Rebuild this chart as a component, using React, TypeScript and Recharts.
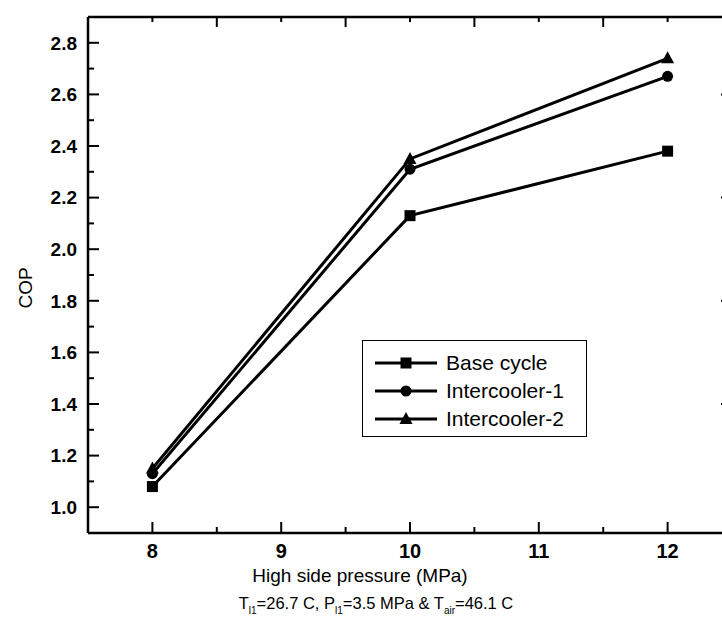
import React from 'react';
import { LineChart, Line, XAxis, YAxis, Legend } from 'recharts';

const pressure = [8, 10, 12];
const baseCycle = [1.08, 2.13, 2.38];
const intercooler1 = [1.13, 2.31, 2.67];
const intercooler2 = [1.15, 2.35, 2.74];

const xTicks = [8, 8.5, 9, 9.5, 10, 10.5, 11, 11.5, 12];
const yTicks = [1.0, 1.1, 1.2, 1.3, 1.4, 1.5, 1.6, 1.7, 1.8, 1.9, 2.0, 2.1, 2.2, 2.3, 2.4, 2.5, 2.6, 2.7, 2.8];
const rightTicks = [1.4, 1.8, 2.2, 2.6];

const data = pressure.map((p, i) => ({
    p,
    base: baseCycle[i],
    ic1: intercooler1[i],
    ic2: intercooler2[i],
}));

const FONT = '"Liberation Sans", Arial, Helvetica, sans-serif';

const isWhole = (v: number) => Math.abs(v - Math.round(v)) < 1e-6;
const isEvenTenth = (v: number) => Math.round(v * 10) % 2 === 0;

function Marker({ kind, cx, cy }: { kind: string; cx: number; cy: number }) {
    if (kind === 'base') return <rect x={cx - 5.5} y={cy - 5.5} width={11} height={11} fill="#000" />;
    if (kind === 'ic1') return <circle cx={cx} cy={cy} r={5.5} fill="#000" />;
    return <polygon points={`${cx},${cy - 7} ${cx + 6.5},${cy + 5} ${cx - 6.5},${cy + 5}`} fill="#000" />;
}

const dotFor = (kind: string) => (props: any) => {
    const { cx, cy, index } = props;
    if (cx == null || cy == null) return <g key={`${kind}-${index}`} />;
    return (
        <g key={`${kind}-${index}`}>
            <Marker kind={kind} cx={cx} cy={cy} />
        </g>
    );
};

function BottomTick(props: any) {
    const { x, y, payload } = props;
    const v = payload.value;
    const major = isWhole(v);
    return (
        <g>
            <line x1={x} y1={y} x2={x} y2={y - (major ? 11 : 6)} stroke="#000" strokeWidth={2} />
            {major && (
                <text x={x} y={y + 25} textAnchor="middle" fontSize={20} fontWeight={700} fill="#000" fontFamily={FONT}>
                    {v}
                </text>
            )}
        </g>
    );
}

function TopTick(props: any) {
    const { x, y, payload } = props;
    const long = !isWhole(payload.value);
    return <line x1={x} y1={y} x2={x} y2={y + (long ? 10 : 5)} stroke="#000" strokeWidth={2} />;
}

function LeftTick(props: any) {
    const { x, y, payload } = props;
    const v = payload.value;
    const major = isEvenTenth(v);
    return (
        <g>
            <line x1={x} y1={y} x2={x + (major ? 11 : 6)} y2={y} stroke="#000" strokeWidth={2} />
            {major && (
                <text x={x - 11} y={y} dy="0.36em" textAnchor="end" fontSize={19} fontWeight={700} fill="#000" fontFamily={FONT}>
                    {v.toFixed(1)}
                </text>
            )}
        </g>
    );
}

function RightTick(props: any) {
    const { x, y } = props;
    return <line x1={x} y1={y} x2={x - 11} y2={y} stroke="#000" strokeWidth={2} />;
}

function CopLabel(props: any) {
    const vb = props.viewBox || { x: 0, y: 0, width: 0, height: 0 };
    const cx = vb.x + 25;
    const cy = vb.y + vb.height / 2 + 13;
    return (
        <text x={cx} y={cy} transform={`rotate(-90, ${cx}, ${cy})`} textAnchor="middle" dy="0.36em" fontSize={19} fill="#000" fontFamily={FONT}>
            COP
        </text>
    );
}

function PressureLabel(props: any) {
    const vb = props.viewBox || { x: 0, y: 0, width: 0, height: 0 };
    const cx = vb.x + 272;
    return (
        <g fontFamily={FONT} fill="#000">
            <text x={cx} y={vb.y + 49} textAnchor="middle" fontSize={19}>
                High side pressure (MPa)
            </text>
            <text x={cx + 16} y={vb.y + 76} textAnchor="middle" fontSize={16.5}>
                T<tspan fontSize={10} dy={5}>l1</tspan>
                <tspan dy={-5}>=26.7 C, P</tspan>
                <tspan fontSize={10} dy={5}>l1</tspan>
                <tspan dy={-5}>=3.5 MPa &amp; T</tspan>
                <tspan fontSize={10} dy={5}>air</tspan>
                <tspan dy={-5}>=46.1 C</tspan>
            </text>
        </g>
    );
}

function LegendBox(props: any) {
    const { payload } = props;
    return (
        <div
            style={{
                width: 225,
                height: 97,
                boxSizing: 'border-box',
                border: '1.5px solid #000',
                background: '#fff',
                paddingTop: 8,
                fontFamily: FONT,
                fontSize: 21,
                color: '#000',
            }}
        >
            {(payload || []).map((entry: any) => (
                <div key={entry.value} style={{ display: 'flex', alignItems: 'center', height: 28, lineHeight: '28px' }}>
                    <svg width={83} height={20} style={{ flex: 'none' }}>
                        <line x1={12} y1={10} x2={74} y2={10} stroke="#000" strokeWidth={3} />
                        <Marker kind={entry.dataKey} cx={43} cy={10} />
                    </svg>
                    <span>{entry.value}</span>
                </div>
            ))}
        </div>
    );
}

export default function App() {
    return (
        <div style={{ position: 'absolute', left: 0, top: 0, width: 722, height: 640, overflow: 'hidden', background: '#fff' }}>
            <LineChart width={760} height={640} data={data} margin={{ top: 0, right: 0, bottom: 0, left: 0 }}>
                <XAxis
                    xAxisId="bottom"
                    dataKey="p"
                    type="number"
                    domain={[7.5, 12.5]}
                    ticks={xTicks}
                    interval={0}
                    allowDataOverflow
                    height={107}
                    tickSize={0}
                    tickMargin={0}
                    tickLine={false}
                    axisLine={{ stroke: '#000', strokeWidth: 2.5 }}
                    tick={BottomTick}
                    label={PressureLabel}
                />
                <XAxis
                    xAxisId="top"
                    orientation="top"
                    dataKey="p"
                    type="number"
                    domain={[7.5, 12.5]}
                    ticks={xTicks}
                    interval={0}
                    allowDataOverflow
                    height={17}
                    tickSize={0}
                    tickMargin={0}
                    tickLine={false}
                    axisLine={{ stroke: '#000', strokeWidth: 2.5 }}
                    tick={TopTick}
                />
                <YAxis
                    yAxisId="left"
                    type="number"
                    domain={[0.9, 2.9]}
                    ticks={yTicks}
                    interval={0}
                    allowDataOverflow
                    width={88}
                    tickSize={0}
                    tickMargin={0}
                    tickLine={false}
                    axisLine={{ stroke: '#000', strokeWidth: 2.5 }}
                    tick={LeftTick}
                    label={CopLabel}
                />
                <YAxis
                    yAxisId="right"
                    orientation="right"
                    type="number"
                    domain={[0.9, 2.9]}
                    ticks={rightTicks}
                    interval={0}
                    allowDataOverflow
                    width={28}
                    tickSize={0}
                    tickMargin={0}
                    tickLine={false}
                    axisLine={{ stroke: '#000', strokeWidth: 2.5 }}
                    tick={RightTick}
                />
                <Legend
                    layout="vertical"
                    align="center"
                    verticalAlign="middle"
                    content={LegendBox}
                    wrapperStyle={{ left: 362, top: 340, width: 225, height: 97 }}
                />
                <Line xAxisId="bottom" yAxisId="left" dataKey="base" name="Base cycle" stroke="#000" strokeWidth={3} dot={dotFor('base')} activeDot={false} isAnimationActive={false} />
                <Line xAxisId="bottom" yAxisId="left" dataKey="ic1" name="Intercooler-1" stroke="#000" strokeWidth={3} dot={dotFor('ic1')} activeDot={false} isAnimationActive={false} />
                <Line xAxisId="bottom" yAxisId="left" dataKey="ic2" name="Intercooler-2" stroke="#000" strokeWidth={3} dot={dotFor('ic2')} activeDot={false} isAnimationActive={false} />
            </LineChart>
        </div>
    );
}
